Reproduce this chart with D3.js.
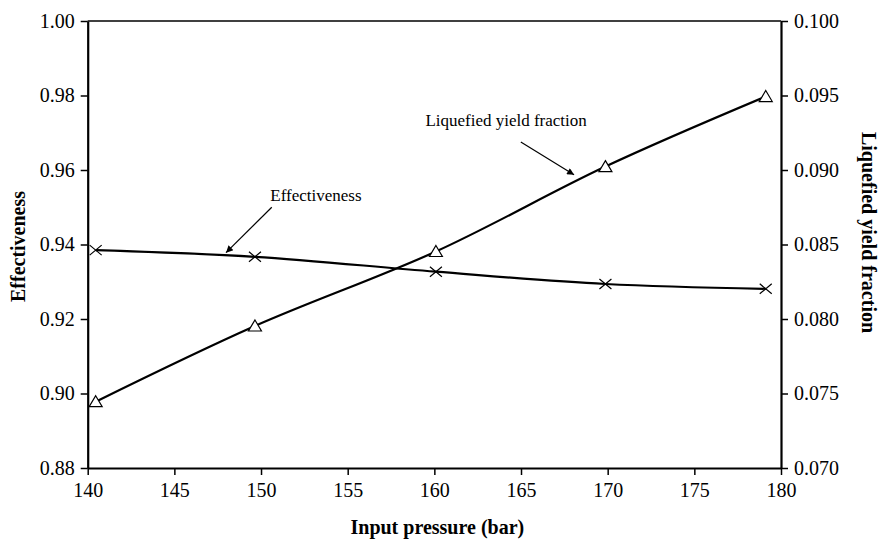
<!DOCTYPE html>
<html lang="en">
	<head>
		<meta charset="utf-8">
		<title>Effectiveness and liquefied yield fraction vs input pressure</title>
		<script src="https://cdn.jsdelivr.net/npm/d3@7"></script>
		<style type="text/css">
			body { margin: 0; background: #fff; }
			svg text { font-family: "Liberation Serif", "Times New Roman", serif; fill: #000; }
		</style>
	</head>
	<body>
		<script type="text/javascript">
			//Width and height
			var w = 879;
			var h = 540;
			var serif = "'Liberation Serif', 'Times New Roman', Times, serif";

			// data
			var pressure = [140.46, 149.65, 160.09, 169.87, 179.12];
			var effectiveness = [0.9385, 0.9367, 0.9327, 0.9294, 0.9281];
			var yieldFraction = [0.07445, 0.07953, 0.08453, 0.09023, 0.09493];

			var xTicks = [140, 145, 150, 155, 160, 165, 170, 175, 180];
			var leftTicks = [0.88, 0.90, 0.92, 0.94, 0.96, 0.98, 1.00];
			var rightTicks = [0.070, 0.075, 0.080, 0.085, 0.090, 0.095, 0.100];

			// annotation labels with arrows, in data units (left axis)
			var notes = [
				{ text: "Effectiveness", x: 153.17, y: 0.9517, x1: 150.62, y1: 0.9500, x2: 147.98, y2: 0.9378 },
				{ text: "Liquefied yield fraction", x: 164.14, y: 0.9718, x1: 164.99, y1: 0.9675, x2: 168.06, y2: 0.9587 }
			];

			var svg = d3.select("body")
						.append("svg")
						.attr("width", w)
						.attr("height", h);

			svg.append("defs").append("marker")
				.attr("id", "arrow")
				.attr("viewBox", "0 0 10 10")
				.attr("refX", 10)
				.attr("refY", 5)
				.attr("markerWidth", 9)
				.attr("markerHeight", 7)
				.attr("markerUnits", "userSpaceOnUse")
				.attr("orient", "auto")
				.append("path")
				.attr("d", "M0,0 L10,5 L0,10 z")
				.attr("fill", "#000");

			var xscale = d3.scaleLinear().domain([140, 180]).range([87.7, 781]);
			var yleft = d3.scaleLinear().domain([0.88, 1.00]).range([468, 21]);
			var yright = d3.scaleLinear().domain([0.070, 0.100]).range([468, 21]);

			// top frame line
			svg.append("line")
				.attr("x1", xscale(140)).attr("x2", xscale(180))
				.attr("y1", yleft(1.0)).attr("y2", yleft(1.0))
				.attr("stroke", "#000").attr("stroke-width", 1.5);

			var xAxis = d3.axisBottom(xscale).tickValues(xTicks).tickSizeInner(7).tickSizeOuter(0).tickPadding(8)
				.tickFormat(d3.format("d"));
			var lAxis = d3.axisLeft(yleft).tickValues(leftTicks).tickSizeInner(7).tickSizeOuter(0).tickPadding(6)
				.tickFormat(d3.format(".2f"));
			var rAxis = d3.axisRight(yright).tickValues(rightTicks).tickSizeInner(7).tickSizeOuter(0).tickPadding(6)
				.tickFormat(d3.format(".3f"));

			function styleAxis(g) {
				g.attr("font-family", null).attr("font-size", null);
				g.select(".domain").attr("stroke", "#000").attr("stroke-width", 2.2);
				g.selectAll(".tick line").attr("stroke", "#000").attr("stroke-width", 1.5);
				g.selectAll(".tick text")
					.style("font-family", serif)
					.style("font-size", "20px")
					.attr("fill", "#000");
			}

			svg.append("g").attr("transform", "translate(0," + yleft(0.88) + ")").call(xAxis).call(styleAxis);
			svg.append("g").attr("transform", "translate(" + xscale(140) + ",0)").call(lAxis).call(styleAxis);
			svg.append("g").attr("transform", "translate(" + xscale(180) + ",0)").call(rAxis).call(styleAxis);

			// axis titles
			svg.append("text")
				.attr("x", (xscale(140) + xscale(180)) / 2 + 3)
				.attr("y", 534)
				.attr("text-anchor", "middle")
				.style("font-family", serif)
				.style("font-size", "20px")
				.attr("font-weight", "bold")
				.text("Input pressure (bar)");

			svg.append("text")
				.attr("transform", "translate(25," + (yleft(0.94) + 2) + ") rotate(-90)")
				.attr("text-anchor", "middle")
				.style("font-family", serif)
				.style("font-size", "20px")
				.attr("font-weight", "bold")
				.text("Effectiveness");

			svg.append("text")
				.attr("transform", "translate(862," + (yleft(0.94) - 12) + ") rotate(90)")
				.attr("text-anchor", "middle")
				.style("font-family", serif)
				.style("font-size", "20px")
				.attr("font-weight", "bold")
				.text("Liquefied yield fraction");

			// smoothed lines
			var effLine = d3.line()
				.x(function(d, i) { return xscale(pressure[i]); })
				.y(function(d) { return yleft(d); })
				.curve(d3.curveCatmullRom.alpha(0.5));
			var yieldLine = d3.line()
				.x(function(d, i) { return xscale(pressure[i]); })
				.y(function(d) { return yright(d); })
				.curve(d3.curveCatmullRom.alpha(0.5));

			svg.append("path").datum(effectiveness)
				.attr("d", effLine)
				.attr("fill", "none").attr("stroke", "#000").attr("stroke-width", 2.2);
			svg.append("path").datum(yieldFraction)
				.attr("d", yieldLine)
				.attr("fill", "none").attr("stroke", "#000").attr("stroke-width", 2.2);

			// cross markers
			svg.selectAll("path.cross")
				.data(effectiveness)
				.enter()
				.append("path")
				.attr("class", "cross")
				.attr("transform", function(d, i) {
					return "translate(" + xscale(pressure[i]) + "," + yleft(d) + ")";
				})
				.attr("d", "M-6,-5 L6,5 M-6,5 L6,-5")
				.attr("stroke", "#000").attr("stroke-width", 1.2).attr("fill", "none");

			// triangle markers
			svg.selectAll("path.tri")
				.data(yieldFraction)
				.enter()
				.append("path")
				.attr("class", "tri")
				.attr("transform", function(d, i) {
					return "translate(" + xscale(pressure[i]) + "," + yright(d) + ")";
				})
				.attr("d", "M0,-6 L6.5,5 L-6.5,5 Z")
				.attr("stroke", "#000").attr("stroke-width", 1.2).attr("fill", "#fff");

			// annotations
			svg.selectAll("text.note")
				.data(notes)
				.enter()
				.append("text")
				.attr("class", "note")
				.attr("x", function(d) { return xscale(d.x); })
				.attr("y", function(d) { return yleft(d.y); })
				.attr("text-anchor", "middle")
				.style("font-family", serif)
				.style("font-size", "17px")
				.text(function(d) { return d.text; });

			svg.selectAll("line.note")
				.data(notes)
				.enter()
				.append("line")
				.attr("class", "note")
				.attr("x1", function(d) { return xscale(d.x1); })
				.attr("y1", function(d) { return yleft(d.y1); })
				.attr("x2", function(d) { return xscale(d.x2); })
				.attr("y2", function(d) { return yleft(d.y2); })
				.attr("stroke", "#000").attr("stroke-width", 1.2)
				.attr("marker-end", "url(#arrow)");
		</script>
	</body>
</html>
